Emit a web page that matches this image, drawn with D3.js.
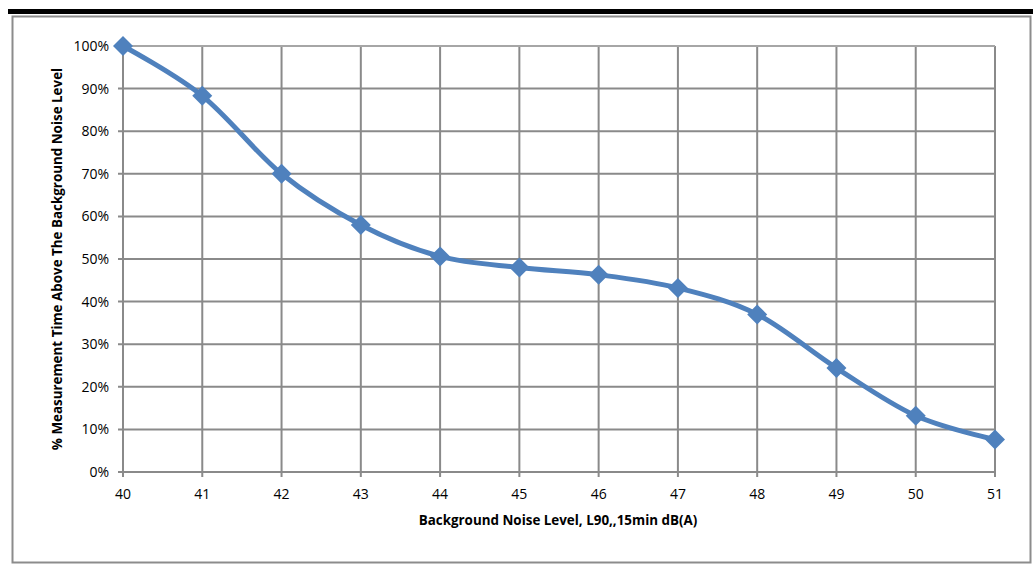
<!DOCTYPE html>
<html><head><meta charset="utf-8">
<script src="https://cdn.jsdelivr.net/npm/d3@7"></script>
<style>body{margin:0;background:#fff;}svg{display:block;}</style>
</head><body>
<svg id="c" width="1033" height="568"></svg>
<script>
const levels = [40,41,42,43,44,45,46,47,48,49,50,51];
const percentAbove = [100,88.3,70,58,50.6,48,46.3,43.2,37,24.4,13.2,7.6];
const yTicks = [0,10,20,30,40,50,60,70,80,90,100];
const xTitle = "Background Noise Level, L90,,15min dB(A)";
const yTitle = "% Measurement Time Above The Background Noise Level";

const svg = d3.select("#c");
const font = "'Open Sans', 'Noto Sans', sans-serif";
const L = 123, R = 995, T = 46, B = 472;
const x = d3.scaleLinear().domain([40,51]).range([L,R]);
const y = d3.scaleLinear().domain([0,100]).range([B,T]);

// top thick line
svg.append("rect").attr("x",8).attr("y",9).attr("width",1025).attr("height",5).attr("fill","#000");
// outer border
svg.append("rect").attr("x",12.5).attr("y",16.5).attr("width",1018).attr("height",546)
  .attr("fill","none").attr("stroke","#8c8c8c").attr("stroke-width",2);

const grid = svg.append("g");
yTicks.forEach(t=>{
  grid.append("line").attr("x1",L-5).attr("x2",R).attr("y1",y(t)).attr("y2",y(t))
    .attr("stroke","#8a8a8a").attr("stroke-width",2);
});
levels.forEach(v=>{
  grid.append("line").attr("x1",x(v)).attr("x2",x(v)).attr("y1",T).attr("y2",B+5)
    .attr("stroke","#8a8a8a").attr("stroke-width",2);
});
grid.append("line").attr("x1",L).attr("x2",R).attr("y1",T).attr("y2",T).attr("stroke","#a6a6a6").attr("stroke-width",2);

svg.append("g").selectAll("text").data(yTicks).join("text")
  .attr("x",L-14).attr("y",d=>y(d)).attr("dy","0.35em").attr("text-anchor","end")
  .attr("font-family",font).attr("font-size",14).attr("fill","#000").text(d=>d+"%");
svg.append("g").selectAll("text").data(levels).join("text")
  .attr("x",d=>x(d)).attr("y",B+22).attr("dy","0.35em").attr("text-anchor","middle")
  .attr("font-family",font).attr("font-size",14).attr("fill","#000").text(d=>d);

svg.append("text").attr("x",558).attr("y",520).attr("dy","0.35em").attr("text-anchor","middle")
  .attr("font-family",font).attr("font-size",13.4).attr("font-weight","bold").text(xTitle);
svg.append("text").attr("transform","translate(57,259) rotate(-90)").attr("dy","0.35em").attr("text-anchor","middle")
  .attr("font-family",font).attr("font-size",13.4).attr("font-weight","bold").text(yTitle);

const data = levels.map((l,i)=>({l, v:percentAbove[i]}));
const line = d3.line().x(d=>x(d.l)).y(d=>y(d.v)).curve(d3.curveCatmullRom.alpha(0));
svg.append("path").datum(data).attr("d",line).attr("fill","none")
  .attr("stroke","#4f81bd").attr("stroke-width",5).attr("stroke-linejoin","round");
svg.append("g").selectAll("path").data(data).join("path")
  .attr("transform",d=>`translate(${x(d.l)},${y(d.v)})`)
  .attr("d","M0,-10L10,0L0,10L-10,0Z").attr("fill","#4f81bd");
</script>
</body></html>
